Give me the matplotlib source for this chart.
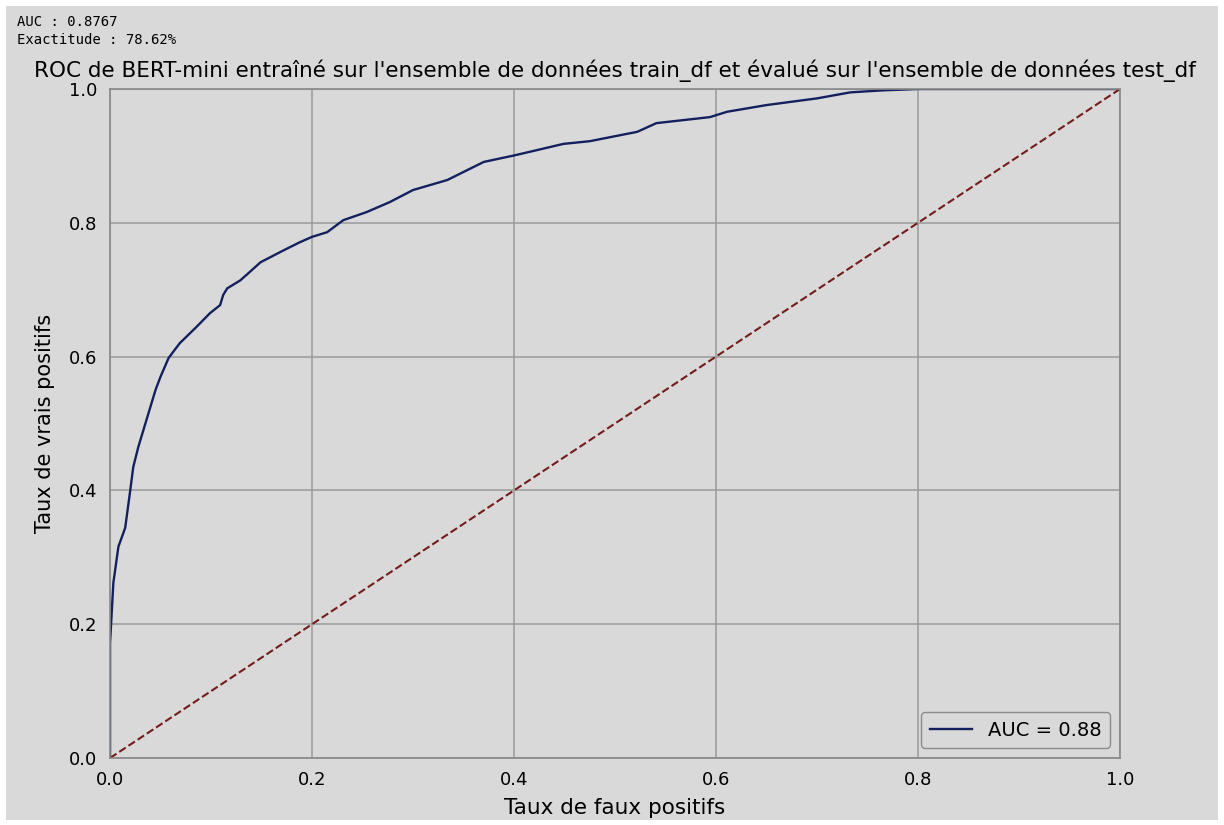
import matplotlib
matplotlib.use("Agg")
import matplotlib.pyplot as plt
from matplotlib.patches import Rectangle

# ROC points
fpr = [0.0, 0.0, 0.0033, 0.0083, 0.015, 0.02, 0.023, 0.028, 0.035, 0.04, 0.045,
       0.05, 0.058, 0.069, 0.086, 0.099, 0.109, 0.112, 0.116, 0.129, 0.135,
       0.149, 0.172, 0.188, 0.2, 0.215, 0.231, 0.254, 0.277, 0.30, 0.334,
       0.37, 0.401, 0.449, 0.475, 0.522, 0.541, 0.594, 0.611, 0.65, 0.70,
       0.733, 0.765, 0.80, 0.84, 1.0]
tpr = [0.0, 0.172, 0.262, 0.316, 0.344, 0.40, 0.435, 0.465, 0.50, 0.525, 0.55,
       0.57, 0.598, 0.62, 0.645, 0.665, 0.677, 0.692, 0.702, 0.714, 0.722,
       0.741, 0.759, 0.771, 0.779, 0.786, 0.804, 0.816, 0.831, 0.849, 0.864,
       0.891, 0.901, 0.918, 0.922, 0.936, 0.949, 0.958, 0.966, 0.976, 0.986,
       0.995, 0.998, 1.0, 1.0, 1.0]
roc_auc = 0.8767
accuracy = 78.62

bg = "#d9d9d9"
fig = plt.figure(figsize=(12.24, 8.25), dpi=100, facecolor="white")
fig.patches.append(Rectangle((0.005, 0.006), 0.990, 0.987, transform=fig.transFigure,
                             facecolor=bg, edgecolor="none", zorder=-10))

# printed output above the chart
fig.text(0.014, 0.973, "AUC : %.4f" % roc_auc, family="DejaVu Sans Mono",
         fontsize=10, va="center")
fig.text(0.014, 0.951, "Exactitude : %.2f%%" % accuracy, family="DejaVu Sans Mono",
         fontsize=10, va="center")

ax = fig.add_axes([0.0899, 0.0812, 0.8251, 0.8109])
ax.set_facecolor(bg)
ax.plot(fpr, tpr, color="#14205e", lw=1.7, label="AUC = %.2f" % roc_auc)
ax.plot([0, 1], [0, 1], color="#731c1c", lw=1.5, ls="--")
ax.set_xlim(0, 1)
ax.set_ylim(0, 1)
ax.grid(True, color="#9a9a9a", lw=1.1)
ax.set_axisbelow(True)
for s in ax.spines.values():
    s.set_color("#888888")
    s.set_linewidth(1.2)
ax.tick_params(length=0, pad=9, labelsize=13)
ax.set_xlabel("Taux de faux positifs", fontsize=15.5, labelpad=7)
ax.set_ylabel("Taux de vrais positifs", fontsize=15, labelpad=10)
ax.set_title("ROC de BERT-mini entraîné sur l'ensemble de données train_df et évalué "
             "sur l'ensemble de données test_df", fontsize=15.5, pad=9)
leg = ax.legend(loc="lower right", fontsize=14, facecolor=bg, edgecolor="#8c8c8c",
                framealpha=1, borderpad=0.45, handlelength=2.2)
leg.get_frame().set_linewidth(1.0)

fig.savefig("out.png", dpi=100, facecolor="white")
